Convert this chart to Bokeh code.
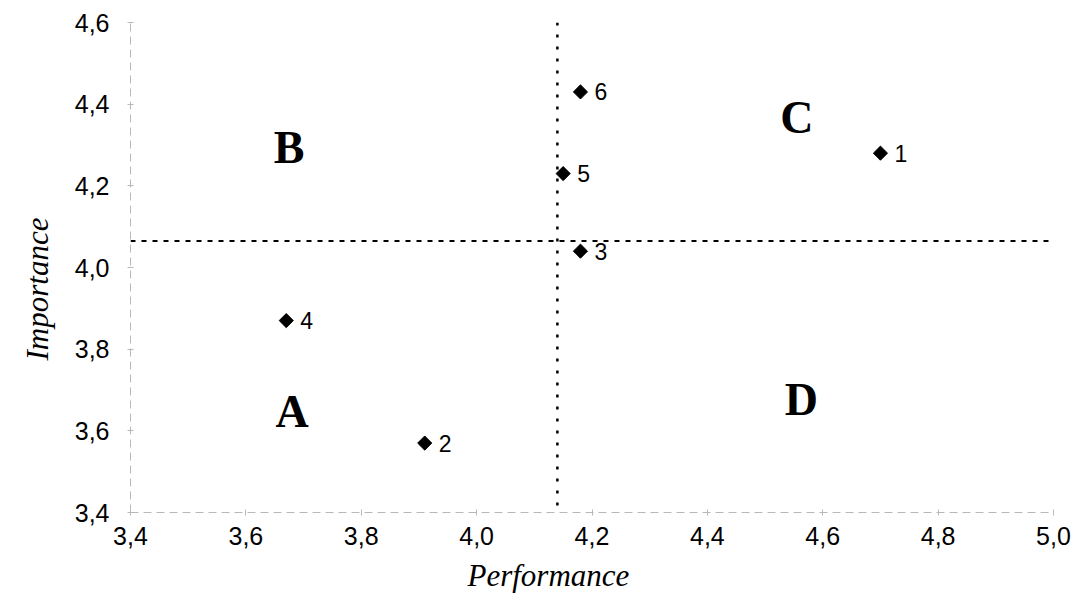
import math
from bokeh.plotting import figure
from bokeh.models import (Range1d, FixedTicker, ColumnDataSource, CustomJSTickFormatter,
                          Span, Title)
from bokeh.core.properties import value
from bokeh.embed import file_html
from bokeh.resources import INLINE

# ---- data ----
point_ids = ["1", "2", "3", "4", "5", "6"]
performance = [4.70, 3.91, 4.18, 3.67, 4.15, 4.18]
importance = [4.28, 3.57, 4.04, 3.87, 4.23, 4.43]

mean_performance = 4.14
mean_importance = 4.065

quadrant_names = ["A", "B", "C", "D"]
quadrant_x = [3.68, 3.675, 4.555, 4.563]
quadrant_y = [3.647, 4.294, 4.367, 3.676]

x_ticks = [3.4, 3.6, 3.8, 4.0, 4.2, 4.4, 4.6, 4.8, 5.0]
x_tick_labels = ["3,4", "3,6", "3,8", "4,0", "4,2", "4,4", "4,6", "4,8", "5,0"]
y_ticks = [3.4, 3.6, 3.8, 4.0, 4.2, 4.4, 4.6]
y_tick_labels = ["3,4", "3,6", "3,8", "4,0", "4,2", "4,4", "4,6"]

x_title = "Performance"
y_title = "Importance"

x0, x1 = x_ticks[0], x_ticks[-1]
y0, y1 = y_ticks[0], y_ticks[-1]

# ---- figure ----
p = figure(width=1072, height=604, output_backend="svg", toolbar_location=None,
           x_range=Range1d(x0, x1), y_range=Range1d(y0, y1),
           min_border_left=130, min_border_right=19, min_border_top=22, min_border_bottom=92)
p.outline_line_color = None
p.xgrid.visible = False
p.ygrid.visible = False
p.background_fill_color = "white"
p.border_fill_color = "white"

fmt_code = """
let best = 0; let bd = 1e9;
for (let i = 0; i < tvals.length; i++) { const d = Math.abs(tvals[i] - tick); if (d < bd) { bd = d; best = i; } }
return tlabs[best];
"""
p.xaxis.ticker = FixedTicker(ticks=x_ticks)
p.yaxis.ticker = FixedTicker(ticks=y_ticks)
p.xaxis.formatter = CustomJSTickFormatter(args=dict(tvals=x_ticks, tlabs=x_tick_labels), code=fmt_code)
p.yaxis.formatter = CustomJSTickFormatter(args=dict(tvals=y_ticks, tlabs=y_tick_labels), code=fmt_code)

for ax in (p.xaxis[0], p.yaxis[0]):
    ax.axis_line_color = "#b8b8b8"
    ax.axis_line_dash = "8 5"
    ax.axis_line_width = 1
    ax.major_tick_line_color = "#b8b8b8"
    ax.major_tick_in = 3
    ax.major_tick_out = 3
    ax.minor_tick_line_color = None
    ax.major_label_text_font = "Liberation Sans"
    ax.major_label_text_font_size = "25px"
    ax.major_label_text_color = "black"

p.xaxis.major_label_standoff = 11
p.yaxis.major_label_standoff = 18

# axis titles as side titles, offset to sit off-centre like the original
p.add_layout(Title(text=x_title, align="left", offset=337, standoff=17,
                   text_font="Liberation Serif", text_font_style="italic",
                   text_font_size="31px", text_color="black"), "below")
p.add_layout(Title(text=y_title, align="left", offset=152, standoff=34,
                   text_font="Liberation Serif", text_font_style="italic",
                   text_font_size="31px", text_color="black"), "left")

# mean lines
p.add_layout(Span(location=mean_performance, dimension="height", line_color="black",
                  line_width=2.5, line_dash="3 9"))
p.add_layout(Span(location=mean_importance, dimension="width", line_color="black",
                  line_width=2, line_dash="5 6"))

src = ColumnDataSource(dict(x=performance, y=importance, t=point_ids))
p.scatter("x", "y", source=src, marker="square", size=10, angle=math.pi / 4,
          fill_color="black", line_color="black")
p.text("x", "y", text="t", source=src, x_offset=14, text_align="left", text_baseline="middle",
       text_font=value("Liberation Sans"), text_font_size="23px", text_color="black")

qsrc = ColumnDataSource(dict(x=quadrant_x, y=quadrant_y, t=quadrant_names))
p.text("x", "y", text="t", source=qsrc, text_align="center", text_baseline="middle",
       text_font=value("Liberation Serif"), text_font_style="bold", text_font_size="46px",
       text_color="black")

open("out.html", "w").write(file_html(p, INLINE))
